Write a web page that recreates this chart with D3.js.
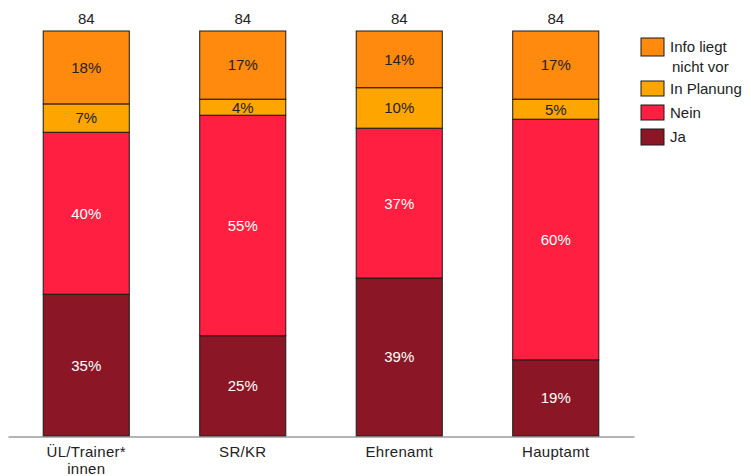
<!DOCTYPE html>
<html>
<head>
<meta charset="utf-8">
<script src="https://cdn.jsdelivr.net/npm/d3@7"></script>
<style>
  html, body { margin: 0; padding: 0; background: #fff; }
  svg { display: block; font-family: "Liberation Sans", Arial, sans-serif; }
</style>
</head>
<body>
<svg id="chart" width="751" height="476"></svg>
<script>
// Categories and answer shares (percent) per group
const categories = ["ÜL/Trainer*innen", "SR/KR", "Ehrenamt", "Hauptamt"];
const categoryLines = [["ÜL/Trainer*", "innen"], ["SR/KR"], ["Ehrenamt"], ["Hauptamt"]];
const totals = [84, 84, 84, 84];
const ja = [35, 25, 39, 19];
const nein = [40, 55, 37, 60];
const inPlanung = [7, 4, 10, 5];
const infoLiegtNichtVor = [18, 17, 14, 17];

const seriesNames = ["Ja", "Nein", "In Planung", "Info liegt nicht vor"];
const seriesValues = [ja, nein, inPlanung, infoLiegtNichtVor];
const colors = ["#8B1726", "#FF1F40", "#FFA500", "#FF8A0D"];
const labelColors = ["#ffffff", "#ffffff", "#222222", "#222222"];

const FS = 15;
const svg = d3.select("#chart");
const margin = { left: 8, right: 117, top: 31, bottom: 40 };
const W = 751, H = 476;
const innerBottom = H - margin.bottom;

const x = d3.scaleBand()
  .domain(categories)
  .range([margin.left, W - margin.right])
  .paddingInner(0.45)
  .paddingOuter(0.225);

// Each bar is shown as a share of its own total (100 %)
const y = d3.scaleLinear().domain([0, 1]).range([innerBottom, margin.top]);

const rows = categories.map((c, i) => {
  const row = { category: c };
  seriesNames.forEach((s, k) => { row[s] = seriesValues[k][i]; });
  return row;
});

const stack = d3.stack().keys(seriesNames).offset(d3.stackOffsetExpand);
const stacked = stack(rows);

const groups = svg.append("g").selectAll("g")
  .data(stacked)
  .join("g")
  .attr("fill", (d, k) => colors[k]);

groups.selectAll("rect")
  .data(d => d)
  .join("rect")
  .attr("x", d => x(d.data.category))
  .attr("width", x.bandwidth())
  .attr("y", d => y(d[1]))
  .attr("height", d => y(d[0]) - y(d[1]))
  .attr("stroke", "#1a1a1a")
  .attr("stroke-width", 1);

// Value labels inside the segments
stacked.forEach((layer, k) => {
  svg.append("g").selectAll("text")
    .data(layer)
    .join("text")
    .attr("x", d => x(d.data.category) + x.bandwidth() / 2)
    .attr("y", d => (y(d[0]) + y(d[1])) / 2)
    .attr("dy", "0.36em")
    .attr("text-anchor", "middle")
    .attr("font-size", FS)
    .attr("fill", labelColors[k])
    .text(d => d.data[layer.key] + "%");
});

// Group sizes above the bars
svg.append("g").selectAll("text")
  .data(categories)
  .join("text")
  .attr("x", c => x(c) + x.bandwidth() / 2)
  .attr("y", y(1) - 7)
  .attr("text-anchor", "middle")
  .attr("font-size", FS)
  .attr("fill", "#222")
  .text((c, i) => totals[i]);

// Category axis
const xAxis = svg.append("g")
  .attr("transform", `translate(0,${innerBottom + 0.5})`)
  .call(d3.axisBottom(x).tickSize(0).tickFormat(""));
xAxis.select(".domain").attr("stroke", "#6b6b6b").attr("stroke-width", 1.2);

svg.append("g").selectAll("text")
  .data(categories)
  .join("text")
  .attr("x", c => x(c) + x.bandwidth() / 2)
  .attr("y", innerBottom + 21)
  .attr("text-anchor", "middle")
  .attr("font-size", FS)
  .attr("letter-spacing", 0.3)
  .attr("fill", "#222")
  .each(function (c, i) {
    const t = d3.select(this);
    categoryLines[i].forEach((line, j) => {
      t.append("tspan")
        .attr("x", x(c) + x.bandwidth() / 2)
        .attr("dy", j === 0 ? 0 : 17)
        .text(line);
    });
  });

// Legend (top entry first)
const legendItems = [
  { name: ["Info liegt", "nicht vor"], color: colors[3], y: 38, h: 18 },
  { name: ["In Planung"], color: colors[2], y: 81, h: 15 },
  { name: ["Nein"], color: colors[1], y: 105, h: 15 },
  { name: ["Ja"], color: colors[0], y: 129, h: 16 }
];
const legend = svg.append("g");
legendItems.forEach(item => {
  legend.append("rect")
    .attr("x", 641)
    .attr("y", item.y)
    .attr("width", 23)
    .attr("height", item.h)
    .attr("fill", item.color)
    .attr("stroke", "#1a1a1a")
    .attr("stroke-width", 1);
  const t = legend.append("text")
    .attr("x", 670)
    .attr("y", item.y + item.h / 2)
    .attr("font-size", FS)
    .attr("fill", "#222");
  item.name.forEach((line, j) => {
    t.append("tspan")
      .attr("x", j === 0 ? 670 : 672)
      .attr("dy", j === 0 ? "0.36em" : 20)
      .text(line);
  });
});
</script>
</body>
</html>
